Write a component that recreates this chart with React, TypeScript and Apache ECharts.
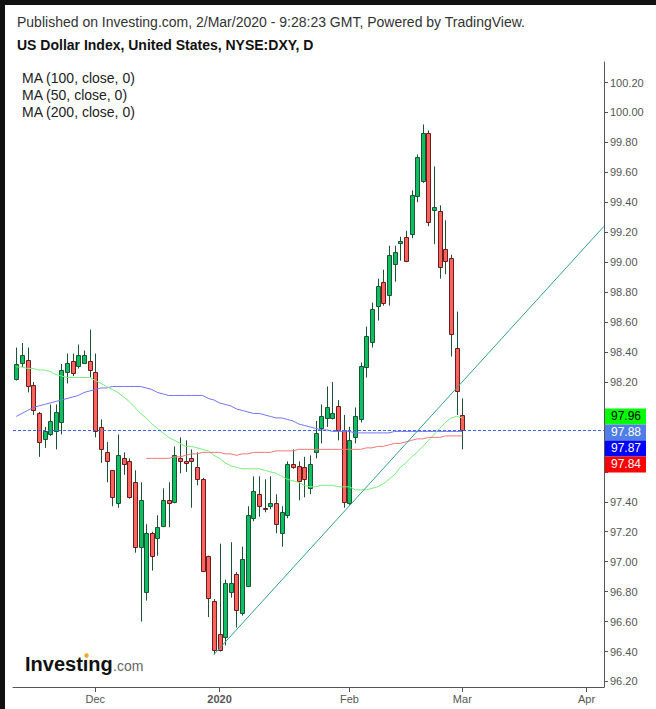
import React, { useEffect, useRef } from "react";
import * as echarts from "echarts";

const dates = [
  "2019-11-12", "2019-11-13", "2019-11-14", "2019-11-15", "2019-11-18", "2019-11-19", "2019-11-20", "2019-11-21", "2019-11-22", "2019-11-25",
  "2019-11-26", "2019-11-27", "2019-11-28", "2019-11-29", "2019-12-02", "2019-12-03", "2019-12-04", "2019-12-05", "2019-12-06", "2019-12-09",
  "2019-12-10", "2019-12-11", "2019-12-12", "2019-12-13", "2019-12-16", "2019-12-17", "2019-12-18", "2019-12-19", "2019-12-20", "2019-12-23",
  "2019-12-24", "2019-12-25", "2019-12-26", "2019-12-27", "2019-12-30", "2019-12-31", "2020-01-01", "2020-01-02", "2020-01-03", "2020-01-06",
  "2020-01-07", "2020-01-08", "2020-01-09", "2020-01-10", "2020-01-13", "2020-01-14", "2020-01-15", "2020-01-16", "2020-01-17", "2020-01-20",
  "2020-01-21", "2020-01-22", "2020-01-23", "2020-01-24", "2020-01-27", "2020-01-28", "2020-01-29", "2020-01-30", "2020-01-31", "2020-02-03",
  "2020-02-04", "2020-02-05", "2020-02-06", "2020-02-07", "2020-02-10", "2020-02-11", "2020-02-12", "2020-02-13", "2020-02-14", "2020-02-17",
  "2020-02-18", "2020-02-19", "2020-02-20", "2020-02-21", "2020-02-24", "2020-02-25", "2020-02-26", "2020-02-27", "2020-02-28", "2020-03-02",
];

const opens = [
  98.22, 98.33, 98.35, 98.18, 97.99, 97.82, 97.85, 97.87, 97.93, 98.27,
  98.34, 98.31, 98.33, 98.34, 98.27, 97.90, 97.73, 97.61, 97.39, 97.69,
  97.67, 97.53, 97.10, 96.80, 97.19, 97.16, 97.24, 97.41, 97.40, 97.69,
  97.67, 97.69, 97.63, 97.55, 97.04, 96.74, 96.52, 96.50, 96.80, 96.92,
  96.66, 96.84, 97.29, 97.45, 97.36, 97.37, 97.39, 97.19, 97.31, 97.65,
  97.64, 97.63, 97.49, 97.73, 97.89, 97.96, 97.96, 98.04, 97.88, 97.39,
  97.83, 97.95, 98.30, 98.47, 98.71, 98.87, 98.78, 98.99, 99.13, 99.17,
  99.19, 99.44, 99.54, 99.86, 99.35, 99.34, 99.09, 99.03, 98.43, 97.98,
];
const closes = [
  98.32, 98.38, 98.17, 98.01, 97.80, 97.87, 97.94, 98.00, 98.28, 98.33,
  98.26, 98.38, 98.38, 98.28, 97.87, 97.75, 97.67, 97.43, 97.71, 97.65,
  97.43, 97.10, 97.41, 97.19, 97.04, 97.23, 97.41, 97.39, 97.71, 97.67,
  97.66, 97.67, 97.55, 96.94, 96.76, 96.41, 96.41, 96.86, 96.86, 96.68,
  97.02, 97.31, 97.47, 97.37, 97.35, 97.39, 97.25, 97.33, 97.65, 97.63,
  97.54, 97.55, 97.65, 97.86, 97.97, 98.03, 97.99, 97.88, 97.40, 97.81,
  97.97, 98.31, 98.51, 98.69, 98.84, 98.73, 99.05, 99.07, 99.14, 99.01,
  99.45, 99.70, 99.86, 99.27, 99.37, 98.97, 99.01, 98.52, 98.14, 97.88,
];
const lows = [
  98.21, 98.30, 98.13, 97.98, 97.70, 97.76, 97.84, 97.75, 97.85, 98.19,
  98.24, 98.29, 98.32, 98.23, 97.83, 97.66, 97.53, 97.37, 97.36, 97.58,
  97.42, 97.06, 96.60, 96.74, 96.94, 97.04, 97.23, 97.23, 97.39, 97.59,
  97.60, 97.36, 97.51, 96.93, 96.63, 96.38, 96.40, 96.44, 96.76, 96.56,
  96.64, 96.83, 97.27, 97.30, 97.33, 97.35, 97.19, 97.10, 97.29, 97.62,
  97.41, 97.43, 97.45, 97.69, 97.79, 97.90, 97.95, 97.81, 97.36, 97.38,
  97.79, 97.93, 98.23, 98.43, 98.61, 98.71, 98.71, 98.87, 99.01, 99.00,
  99.16, 99.40, 99.53, 99.24, 99.12, 98.89, 98.92, 98.37, 97.98, 97.75,
];
const highs = [
  98.43, 98.46, 98.43, 98.20, 98.00, 97.90, 98.05, 98.05, 98.32, 98.39,
  98.39, 98.45, 98.41, 98.55, 98.39, 97.95, 97.80, 97.61, 97.85, 97.73,
  97.69, 97.61, 97.53, 97.25, 97.20, 97.31, 97.49, 97.53, 97.77, 97.83,
  97.81, 97.75, 97.73, 97.56, 97.04, 96.75, 97.12, 96.88, 97.13, 96.93,
  97.10, 97.37, 97.57, 97.57, 97.55, 97.57, 97.45, 97.37, 97.67, 97.75,
  97.67, 97.70, 97.71, 97.94, 98.05, 98.17, 98.20, 98.08, 97.98, 97.90,
  98.03, 98.33, 98.57, 98.73, 98.89, 98.95, 99.11, 99.11, 99.17, 99.21,
  99.48, 99.72, 99.92, 99.88, 99.64, 99.38, 99.28, 99.05, 98.67, 98.09,
];

const ma100 = [
  97.97, 97.99, 98.01, 98.03, 98.04, 98.05, 98.06, 98.07, 98.08, 98.09,
  98.10, 98.11, 98.13, 98.14, 98.15, 98.16, 98.16, 98.17, 98.17, 98.17,
  98.17, 98.17, 98.17, 98.16, 98.15, 98.13, 98.12, 98.11, 98.11, 98.11,
  98.11, 98.11, 98.11, 98.11, 98.09, 98.08, 98.06, 98.05, 98.04, 98.02,
  98.01, 98.00, 97.99, 97.99, 97.98, 97.97, 97.96, 97.96, 97.95, 97.94,
  97.92, 97.91, 97.90, 97.89, 97.88, 97.88, 97.87, 97.87, 97.87, 97.87,
  97.86, 97.86, 97.86, 97.86, 97.86, 97.86, 97.86, 97.87, 97.87, 97.87,
  97.87, 97.87, 97.87, 97.87, 97.87, 97.87, 97.87, 97.87, 97.87, 97.87,
];
const ma50 = [
  98.30, 98.30, 98.29, 98.29, 98.28, 98.28, 98.27, 98.25, 98.24, 98.23,
  98.23, 98.23, 98.23, 98.23, 98.21, 98.19, 98.17, 98.15, 98.13, 98.10,
  98.07, 98.03, 97.99, 97.96, 97.92, 97.89, 97.86, 97.83, 97.81, 97.79,
  97.77, 97.77, 97.76, 97.75, 97.74, 97.71, 97.69, 97.66, 97.64, 97.63,
  97.62, 97.62, 97.62, 97.62, 97.61, 97.60, 97.59, 97.57, 97.55, 97.54,
  97.53, 97.51, 97.50, 97.50, 97.51, 97.51, 97.51, 97.50, 97.50, 97.50,
  97.48, 97.48, 97.48, 97.49, 97.50, 97.52, 97.55, 97.58, 97.63, 97.66,
  97.70, 97.73, 97.77, 97.81, 97.85, 97.89, 97.93, 97.96, 97.97, 97.96,
];
const ma200 = [
  null, null, null, null, null, null, null, null, null, null,
  null, null, null, null, null, null, null, null, null, null,
  null, null, null, 97.69, 97.69, 97.69, 97.69, 97.69, 97.70, 97.70,
  97.71, 97.72, 97.72, 97.73, 97.73, 97.73, 97.73, 97.72, 97.72, 97.71,
  97.72, 97.72, 97.73, 97.73, 97.73, 97.73, 97.74, 97.74, 97.74, 97.74,
  97.75, 97.75, 97.75, 97.75, 97.75, 97.75, 97.75, 97.75, 97.75, 97.75,
  97.75, 97.75, 97.76, 97.76, 97.77, 97.77, 97.78, 97.79, 97.79, 97.80,
  97.81, 97.82, 97.82, 97.83, 97.83, 97.83, 97.84, 97.84, 97.84, 97.84,
];

const yTickValues = [
  96.2, 96.4, 96.6, 96.8, 97.0, 97.2, 97.4, 97.6, 97.8, 98.0, 98.2,
  98.4, 98.6, 98.8, 99.0, 99.2, 99.4, 99.6, 99.8, 100.0, 100.2,
];
// labels hidden behind the price badges in the reference
const yLabelValues = [
  96.2, 96.4, 96.6, 96.8, 97.0, 97.2, 97.4, 98.2,
  98.4, 98.6, 98.8, 99.0, 99.2, 99.4, 99.6, 99.8, 100.0, 100.2,
];
const monthTickIdx = [14, 36, 59, 79, 101];
const monthTickLabels = ["Dec", "2020", "Feb", "Mar", "Apr"];

const lastClose = 97.88;
const trendLine = [
  [35, 96.38],
  [104.09, 99.24],
];

const legendTexts = ["MA (100, close, 0)", "MA (50, close, 0)", "MA (200, close, 0)"];
const headerText = "Published on Investing.com, 2/Mar/2020 - 9:28:23 GMT, Powered by TradingView.";
const titleText = "US Dollar Index, United States, NYSE:DXY, D";

const FONT = "'Liberation Sans', Arial, Helvetica, sans-serif";
const UP_FILL = "#0dbf62";
const UP_BORDER = "#1d5233";
const DOWN_FILL = "#fa645c";
const DOWN_BORDER = "#6e1b1b";
const WICK = "#1d5233";

export default function App() {
  const ref = useRef<HTMLDivElement>(null);

  useEffect(() => {
    const chart = echarts.init(ref.current!, null, { renderer: "svg" });

    const candleData = dates.map((_, i) => [i, opens[i], closes[i], lows[i], highs[i]]);
    const toLine = (arr: (number | null)[]) =>
      arr.map((v, i) => [i, v]).filter((p) => p[1] != null);

    const staticGraphics: any[] = [
      { id: "bt", type: "rect", z: 200, shape: { x: 0, y: 0, width: 656, height: 5 }, style: { fill: "#111" } },
      { id: "bl", type: "rect", z: 200, shape: { x: 0, y: 0, width: 5, height: 709 }, style: { fill: "#111" } },
      {
        id: "hdr", type: "text", x: 17, y: 22,
        style: { text: headerText, fill: "#333", fontSize: 14, fontFamily: FONT, textVerticalAlign: "middle" },
      },
      {
        id: "ttl", type: "text", x: 17, y: 45,
        style: { text: titleText, fill: "#111", fontSize: 14, fontWeight: "bold", fontFamily: FONT, textVerticalAlign: "middle" },
      },
      ...legendTexts.map((t, k) => ({
        id: "lg" + k, type: "text", x: 22, y: 78 + k * 17,
        style: { text: t, fill: "#222", fontSize: 14, fontFamily: FONT, textVerticalAlign: "middle" },
      })),
      {
        id: "logo1", type: "text", x: 25, y: 664,
        style: { text: "Investıng", fill: "#111", fontSize: 20, fontWeight: "bold", fontFamily: FONT, textVerticalAlign: "middle" },
      },
      {
        id: "logo2", type: "text", x: 113, y: 666,
        style: { text: ".com", fill: "#666", fontSize: 14, fontFamily: FONT, textVerticalAlign: "middle" },
      },
      { id: "logodot", type: "circle", shape: { cx: 86.5, cy: 655.5, r: 2.2 }, style: { fill: "#f5a623" } },
    ];

    chart.setOption({
      animation: false,
      backgroundColor: "#ffffff",
      grid: { left: 13, right: 52, top: 62, bottom: 22, containLabel: false },
      xAxis: {
        type: "value",
        min: -0.584,
        max: 104.09,
        axisLine: { show: true, onZero: false, lineStyle: { color: "#555", width: 1 } },
        axisTick: { show: true, customValues: monthTickIdx, length: 5, lineStyle: { color: "#555" } },
        axisLabel: {
          show: true,
          customValues: monthTickIdx,
          color: "#555",
          fontSize: 11,
          fontFamily: FONT,
          margin: 6,
          formatter: (v: number) => {
            const k = monthTickIdx.indexOf(Math.round(v));
            if (k < 0) return "";
            return k === 1 ? "{b|" + monthTickLabels[k] + "}" : monthTickLabels[k];
          },
          rich: { b: { fontWeight: "bold", color: "#555", fontSize: 11, fontFamily: FONT } },
        },
        splitLine: { show: false },
      },
      yAxis: {
        type: "value",
        position: "right",
        min: 96.163,
        max: 100.337,
        scale: true,
        axisLine: { show: true, onZero: false, lineStyle: { color: "#555", width: 1 } },
        axisTick: { show: true, customValues: yTickValues, length: 4, lineStyle: { color: "#555" } },
        axisLabel: {
          show: true,
          customValues: yLabelValues,
          color: "#555",
          fontSize: 11,
          fontFamily: FONT,
          margin: 6,
          formatter: (v: number) => v.toFixed(2),
        },
        splitLine: { show: false },
      },
      series: [
        {
          type: "custom",
          name: "DXY",
          data: candleData,
          encode: { x: 0, y: [1, 2, 3, 4] },
          z: 2,
          renderItem: (params: any, api: any) => {
            const i = api.value(0);
            const o = api.value(1);
            const c = api.value(2);
            const l = api.value(3);
            const h = api.value(4);
            const p = api.coord([i, o]);
            const yo = p[1];
            const yc = api.coord([i, c])[1];
            const yl = api.coord([i, l])[1];
            const yh = api.coord([i, h])[1];
            const xr = Math.round(p[0]);
            const up = c >= o;
            const top = Math.round(Math.min(yo, yc));
            const bot = Math.round(Math.max(yo, yc));
            return {
              type: "group",
              children: [
                {
                  type: "line",
                  shape: { x1: xr + 0.5, y1: yh, x2: xr + 0.5, y2: yl },
                  style: { stroke: WICK, lineWidth: 1 },
                },
                {
                  type: "rect",
                  shape: { x: xr - 1.5, y: top + 0.5, width: 4, height: Math.max(bot - top, 1) },
                  style: { fill: up ? UP_FILL : DOWN_FILL, stroke: up ? UP_BORDER : DOWN_BORDER, lineWidth: 1 },
                },
              ],
            };
          },
        },
        {
          type: "line",
          name: "MA100",
          data: toLine(ma100),
          showSymbol: false,
          symbol: "none",
          lineStyle: { color: "#7474f4", width: 1 },
          z: 3,
          markLine: {
            silent: true,
            symbol: ["none", "none"],
            label: { show: false },
            lineStyle: { color: "#3b66e8", width: 1, type: [3, 2] },
            data: [{ yAxis: lastClose }],
          },
        },
        {
          type: "line",
          name: "MA50",
          data: toLine(ma50),
          showSymbol: false,
          symbol: "none",
          lineStyle: { color: "#78ee78", width: 1 },
          z: 3,
        },
        {
          type: "line",
          name: "MA200",
          data: toLine(ma200),
          showSymbol: false,
          symbol: "none",
          lineStyle: { color: "#f47777", width: 1 },
          z: 3,
        },
        {
          type: "line",
          name: "Trend",
          data: trendLine,
          showSymbol: false,
          symbol: "none",
          lineStyle: { color: "#33a08e", width: 1 },
          z: 4,
        },
      ],
      graphic: staticGraphics,
    });

    const badges = [
      { v: ma50[ma50.length - 1] as number, bg: "#00ff00", fg: "#000" },
      { v: lastClose, bg: "#4f7ee6", fg: "#fff" },
      { v: ma100[ma100.length - 1] as number, bg: "#0000ff", fg: "#fff" },
      { v: ma200[ma200.length - 1] as number, bg: "#ff0000", fg: "#fff" },
    ];
    const H = 16;
    let prev = -Infinity;
    const badgeEls: any[] = [];
    badges.forEach((b, k) => {
      const y0 = chart.convertToPixel({ yAxisIndex: 0 }, b.v) as number;
      const y = Math.max(y0 - 1.5, prev + H);
      prev = y;
      badgeEls.push({
        id: "bdr" + k, type: "rect", z: 100,
        shape: { x: 605, y: y - H / 2, width: 41, height: H },
        style: { fill: b.bg },
      });
      badgeEls.push({
        id: "bdt" + k, type: "text", z: 101, x: 611, y: y,
        style: { text: b.v.toFixed(2), fill: b.fg, fontSize: 12, fontFamily: FONT, textVerticalAlign: "middle" },
      });
    });
    chart.setOption({ graphic: [...staticGraphics, ...badgeEls] });

    return () => chart.dispose();
  }, []);

  return (
    <div style={{ position: "fixed", left: 0, top: 0, width: 656, height: 709, background: "#fff" }}>
      <div ref={ref} style={{ position: "absolute", left: 0, top: 0, width: 656, height: 709 }} />
    </div>
  );
}
